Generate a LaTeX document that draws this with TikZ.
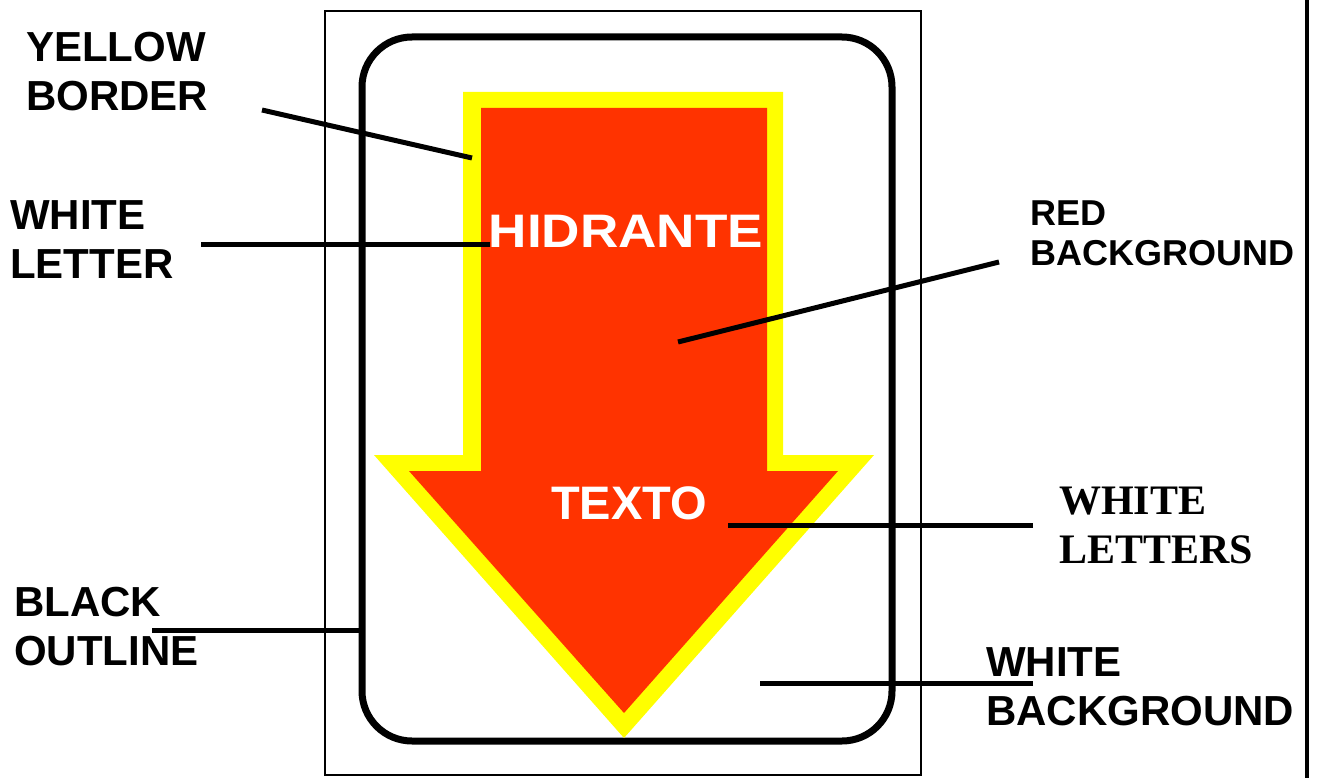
\documentclass[tikz,border=0pt]{standalone}
\usepackage{fontspec}
\setmainfont{Liberation Sans}
\newfontfamily\serifbold{Liberation Serif}
\definecolor{hred}{HTML}{FF3300}
\definecolor{hyel}{HTML}{FFFF00}
\begin{document}
\begin{tikzpicture}[x=1pt,y=-1pt,
  lbl/.style={anchor=north west, inner sep=0pt, align=left, font=\fontsize{42}{49}\selectfont\bfseries},
  lblsmall/.style={anchor=north west, inner sep=0pt, align=left, font=\fontsize{36}{40}\selectfont\bfseries},
  lblserif/.style={anchor=north west, inner sep=0pt, align=left, font=\fontsize{42}{49}\serifbold\bfseries},
  signtext/.style={anchor=north, inner sep=0pt, text=white, font=\fontsize{47}{50}\selectfont\bfseries},
  leader/.style={line width=5pt},
  frameline/.style={line width=2pt},
  outline/.style={line width=7pt, rounded corners=50pt}]
\useasboundingbox (0,0) rectangle (1320,778);
\fill[white] (0,0) rectangle (1320,778);
% outer frame and right edge line
\draw[frameline] (325,11) rectangle (921,775);
\draw[line width=4pt] (1307,0) -- (1307,778);
% black rounded outline
\draw[outline] (362,37) rectangle (892,741);
% arrow: yellow border and red body
\fill[hyel] (463,92) -- (783,92) -- (783,455) -- (874,455) -- (624,738) -- (374,455) -- (463,455) -- cycle;
\fill[hred] (481,108) -- (767,108) -- (767,471) -- (838,471) -- (624,713) -- (409,471) -- (481,471) -- cycle;
% texts on the sign
\node[signtext] (hid) at (626,215) {\scalebox{1.13}[1]{HIDRANTE}};
\node[signtext] (tex) at (629,486) {TEXTO};
% labels
\node[lbl] (yb) at (26,32) {YELLOW\\BORDER};
\node[lbl] (wl) at (10,200) {WHITE\\LETTER};
\node[lblsmall] (rb) at (1030,201) {RED\\BACKGROUND};
\node[lblserif] (wls) at (1059,487) {WHITE\\LETTERS};
\node[lbl] (bo) at (14,587) {BLACK\\OUTLINE};
\node[lbl] (wb) at (986,647) {WHITE\\BACKGROUND};
% leader endpoints
\coordinate (ybA) at (262,110); \coordinate (ybB) at (472,158);
\coordinate (wlA) at (201,245); \coordinate (wlB) at (490,245);
\coordinate (rbA) at (999,262); \coordinate (rbB) at (678,342);
\coordinate (wlsA) at (1033,525); \coordinate (wlsB) at (728,525);
\coordinate (boA) at (152,630); \coordinate (boB) at (360,630);
\coordinate (wbA) at (1033,683); \coordinate (wbB) at (760,683);
% leaders
\draw[leader] (ybA) -- (ybB);
\draw[leader] (wlA) -- (wlB);
\draw[leader] (rbA) -- (rbB);
\draw[leader] (wlsA) -- (wlsB);
\draw[leader] (boA) -- (boB);
\draw[leader] (wbA) -- (wbB);
\end{tikzpicture}
\end{document}
